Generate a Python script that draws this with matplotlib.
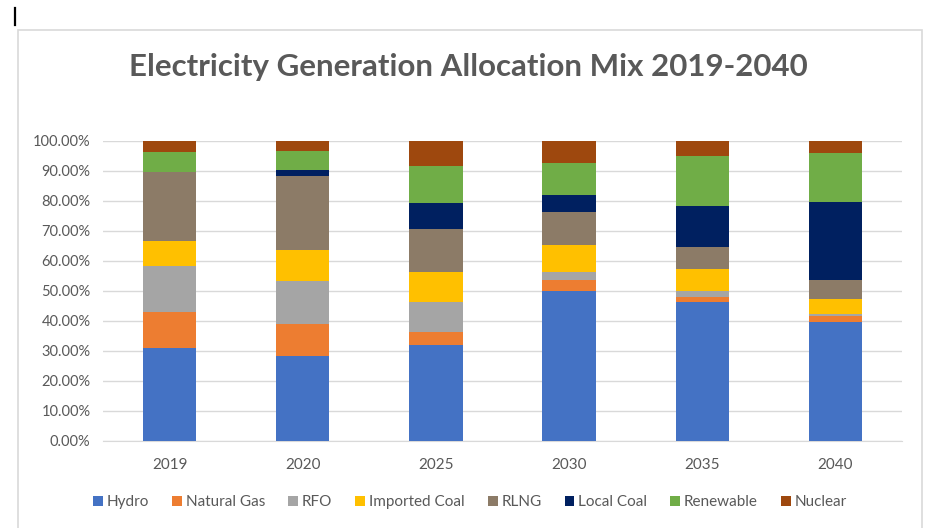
import matplotlib
matplotlib.use("Agg")
import matplotlib.pyplot as plt
from matplotlib.patches import Rectangle
from matplotlib.lines import Line2D
from matplotlib.ticker import FuncFormatter, MultipleLocator
import numpy as np

years = ["2019", "2020", "2025", "2030", "2035", "2040"]
hydro = [31.0, 28.3, 32.1, 49.9, 46.2, 39.8]
natural_gas = [12.1, 10.8, 4.4, 3.9, 1.9, 1.9]
rfo = [15.3, 14.1, 9.7, 2.6, 1.8, 0.7]
imported_coal = [8.4, 10.3, 10.2, 8.9, 7.3, 5.0]
rlng = [22.9, 24.9, 14.1, 11.0, 7.6, 6.4]
local_coal = [0.0, 2.0, 8.9, 5.7, 13.4, 25.7]
renewable = [6.5, 6.4, 12.3, 10.8, 16.7, 16.6]
nuclear = [3.8, 3.2, 8.3, 7.2, 5.1, 3.9]

series_names = ["Hydro", "Natural Gas", "RFO", "Imported Coal", "RLNG",
                "Local Coal", "Renewable", "Nuclear"]
series_values = [hydro, natural_gas, rfo, imported_coal, rlng,
                 local_coal, renewable, nuclear]
colors = ["#4472C4", "#ED7D31", "#A5A5A5", "#FFC000", "#8C7B67",
          "#002060", "#70AD47", "#9E480E"]

plt.rcParams['font.family'] = ['Lato', 'DejaVu Sans']
text_color = "#595959"

fig = plt.figure(figsize=(9.26, 5.28), dpi=100)
fig.patch.set_facecolor("white")

# chart area border
fig.patches.append(Rectangle((18/926, -0.05), (922-18)/926, 1 - 30/528 + 0.05,
                             transform=fig.transFigure, fill=False,
                             edgecolor="#D9D9D9", linewidth=1.2))
# text cursor mark at top-left
fig.lines.append(Line2D([15/926, 15/926], [1-8/528, 1-25/528],
                        transform=fig.transFigure, color="black", linewidth=1.6))

ax = fig.add_axes([103/926, 1-441/528, (902-103)/926, (441-141)/528])
x = np.arange(len(years))
bottom = np.zeros(len(years))
handles = []
for name, vals, c in zip(series_names, series_values, colors):
    v = np.array(vals)
    b = ax.bar(x, v, 0.4, bottom=bottom, color=c, label=name, zorder=3)
    handles.append(b)
    bottom += v

ax.set_xlim(-0.5, len(years) - 0.5)
ax.set_ylim(0, 100)
ax.yaxis.set_major_locator(MultipleLocator(10))
ax.yaxis.set_major_formatter(FuncFormatter(lambda v, p: f"{v:.2f}%"))
ax.grid(axis="y", color="#D9D9D9", linewidth=1, zorder=0)
for s in ["top", "right", "left"]:
    ax.spines[s].set_visible(False)
ax.spines["bottom"].set_color("#D9D9D9")
ax.tick_params(axis="both", length=0, colors=text_color, labelsize=11)
ax.tick_params(axis="y", pad=9, labelsize=10.5)
ax.tick_params(axis="x", pad=12)
ax.set_xticks(x)
ax.set_xticklabels(years)

fig.text(468/926, 1-67/528, "Electricity Generation Allocation Mix 2019-2040",
         ha="center", va="center", fontsize=22.5, fontweight="bold", color=text_color)

leg = fig.legend(handles=handles, labels=series_names, loc="center",
                 bbox_to_anchor=(470/926, 1-502/528), ncol=8, frameon=False,
                 fontsize=11, handlelength=0.65, handleheight=0.65,
                 handletextpad=0.25, columnspacing=1.5, labelcolor=text_color)

fig.savefig("out.png", dpi=100)
